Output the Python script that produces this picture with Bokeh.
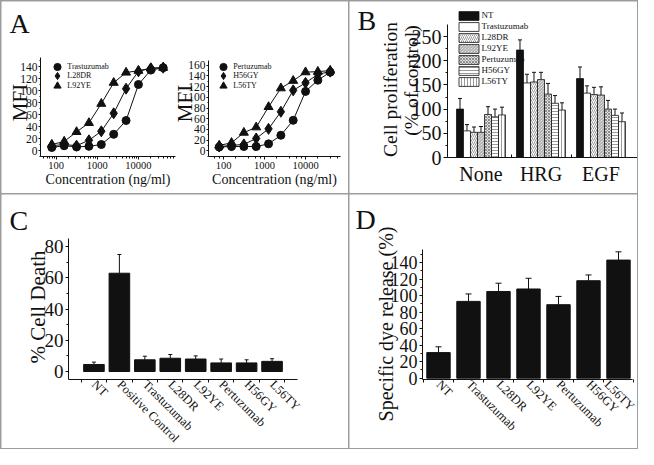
import math
from bokeh.plotting import figure
from bokeh.layouts import row, column
from bokeh.models import (ColumnDataSource, Whisker, TeeHead, Label, Legend, LegendItem,
                          SingleIntervalTicker, FixedTicker, PrintfTickFormatter, Range1d,
                          LogScale, LogAxis, LinearAxis)
from bokeh.embed import file_html
from bokeh.resources import INLINE

FONT = "Liberation Serif"
INK = "#111111"
RULE = "#9c9c9c"
LEG_DX, LEG_DY = 8, 8   # legend placement correction (page px)

# ---------------- data ----------------
conc = [78.125, 156.25, 312.5, 625, 1250, 2500, 5000, 10000, 20000, 40000]
mfi_trastuzumab = [5, 8, 6, 7, 10, 27, 50, 110, 134, 138]
mfi_l28dr = [8, 10, 8, 17, 32, 62, 103, 132, 137, 138]
mfi_l92ye = [10, 15, 31, 46, 78, 113, 130, 133, 137, 138]
mfi_pertuzumab = [7, 8, 8, 8, 13, 29, 57, 111, 132, 147]
mfi_h56gy = [8, 10, 12, 23, 41, 73, 113, 127, 143, 148]
mfi_l56ty = [10, 15, 34, 44, 82, 117, 131, 147, 148, 150]

prolif_groups = ["None", "HRG", "EGF"]
prolif_names = ["NT", "Trastuzumab", "L28DR", "L92YE", "Pertuzumab", "H56GY", "L56TY"]
prolif_nt = [100, 222, 163]
prolif_trastuzumab = [55, 154, 133]
prolif_l28dr = [52, 156, 130]
prolif_l92ye = [52, 161, 129]
prolif_pertuzumab = [89, 131, 100]
prolif_h56gy = [84, 112, 87]
prolif_l56ty = [88, 98, 74]
prolif_nt_err = [22, 21, 24]
prolif_trastuzumab_err = [13, 18, 15]
prolif_l28dr_err = [11, 20, 15]
prolif_l92ye_err = [12, 15, 17]
prolif_pertuzumab_err = [16, 22, 18]
prolif_h56gy_err = [16, 16, 13]
prolif_l56ty_err = [16, 15, 18]

death_labels = ["NT", "Positive Control", "Trastuzumab", "L28DR", "L92YE", "Pertuzumab", "H56GY", "L56TY"]
death_values = [4.5, 63, 7.5, 8.5, 8, 5.5, 5.5, 6.5]
death_err = [1.5, 12, 2.3, 2.4, 2, 2.5, 2, 1.7]

dye_labels = ["NT", "Trastuzumab", "L28DR", "L92YE", "Pertuzumab", "H56GY", "L56TY"]
dye_values = [31, 93, 105, 108, 89, 118, 143]
dye_err = [7, 9, 10, 13, 10, 7, 10]


# ---------------- layout helpers (page pixel geometry -> ranges) ----------------
def pix_map(p0, v0, p1, v1, log=False):
    f = math.log10 if log else (lambda v: v)
    a0, a1 = f(v0), f(v1)

    def to_val(px):
        u = a0 + (px - p0) * (a1 - a0) / (p1 - p0)
        return 10 ** u if log else u
    return to_val


def style_axis(ax):
    ax.axis_line_color = INK
    ax.major_tick_line_color = INK
    ax.minor_tick_line_color = INK
    ax.major_label_text_font = FONT
    ax.major_label_text_color = INK
    ax.major_tick_in = 0
    ax.minor_tick_in = 0


class Panel:
    def __init__(self, box, xmap, ymap, xaxis_px, yaxis_px, log=False):
        self.L, self.R, self.T, self.B = box
        p = figure(width=self.R - self.L, height=self.B - self.T, min_border=0,
                   x_range=Range1d(xmap(self.L), xmap(self.R)),
                   y_range=Range1d(ymap(self.B), ymap(self.T)),
                   x_axis_type="log" if log else "linear",
                   output_backend="svg", toolbar_location=None, title=None)
        p.outline_line_color = None
        p.xgrid.visible = False
        p.ygrid.visible = False
        p.background_fill_color = "white"
        p.border_fill_color = "white"
        (x0, x1, ya) = xaxis_px
        (y0, y1, xa) = yaxis_px
        xax, yax = p.xaxis[0], p.yaxis[0]
        xax.fixed_location = ymap(ya)
        xax.bounds = (xmap(x0), xmap(x1))
        yax.fixed_location = xmap(xa)
        yax.bounds = (ymap(y0), ymap(y1))
        style_axis(xax)
        style_axis(yax)
        self.p = p

    def add_sub(self, name, xmap, ymap, xaxis_px, yaxis_px):
        """Second set of axes (own ranges) inside the same canvas."""
        p = self.p
        xr, yr = name + "x", name + "y"
        p.extra_x_ranges[xr] = Range1d(xmap(self.L), xmap(self.R))
        p.extra_x_scales[xr] = LogScale()
        p.extra_y_ranges[yr] = Range1d(ymap(self.B), ymap(self.T))
        (x0, x1, ya) = xaxis_px
        (y0, y1, xa) = yaxis_px
        xax = LogAxis(x_range_name=xr, y_range_name=yr, fixed_location=ymap(ya), bounds=(xmap(x0), xmap(x1)))
        yax = LinearAxis(x_range_name=xr, y_range_name=yr, fixed_location=xmap(xa), bounds=(ymap(y0), ymap(y1)))
        style_axis(xax)
        style_axis(yax)
        p.add_layout(xax, "below")
        p.add_layout(yax, "left")
        return xr, yr, xax, yax

    def label(self, text, px, py, size, angle=0.0, align="left", baseline="alphabetic"):
        self.p.add_layout(Label(x=px - self.L, y=self.B - py, x_units="screen", y_units="screen",
                                text=text, angle=angle, text_font=FONT, text_font_size=size,
                                text_color=INK, text_align=align, text_baseline=baseline))

    def vtitle(self, text, bx, cy, size):
        # bx = page x of the (rotated) text baseline, cy = page y of its centre
        self.label(text, bx, cy, size, angle=math.pi / 2, align="center", baseline="alphabetic")

    def loc(self, px, py):
        return (px + LEG_DX - self.L, self.B - (py + LEG_DY))


# ---------------- panel A (two sub-plots in one canvas) ----------------
Ap = Panel((9, 356, 9, 201), pix_map(59.3, 78.125, 170.7, 40000, log=True), pix_map(158, 0, 74, 140),
           (48, 183, 164), (164, 65, 48), log=True)
pA = Ap.p
a2x, a2y, a2_xax, a2_yax = Ap.add_sub("a2", pix_map(226.7, 78.125, 337.7, 40000, log=True),
                                      pix_map(158.3, 0, 72.7, 160), (216, 348, 164), (164, 68, 216))

for rng, series, names, leg_left, rows_y, xax, yax in (
    ({}, [mfi_trastuzumab, mfi_l28dr, mfi_l92ye], ["Trastuzumab", "L28DR", "L92YE"], 48.3,
     [66.3, 75.8, 85.3], pA.xaxis[0], pA.yaxis[0]),
    (dict(x_range_name=a2x, y_range_name=a2y), [mfi_pertuzumab, mfi_h56gy, mfi_l56ty],
     ["Pertuzumab", "H56GY", "L56TY"], 214.3, [66.3, 75.8, 85.3], a2_xax, a2_yax),
):
    for vals, name, marker, size, ry in zip(series, names, ["circle", "diamond", "triangle"], [8, 11, 9], rows_y):
        pA.line(conc, vals, line_color=INK, line_width=1, **rng)
        r = pA.scatter(conc, vals, marker=marker, size=size, fill_color=INK, line_color=INK, **rng)
        leg = Legend(items=[LegendItem(label=name, renderers=[r])], location=Ap.loc(leg_left, ry + 9.5),
                     glyph_width=18, glyph_height=19, label_height=19, spacing=0, padding=0, margin=0,
                     border_line_color=None, background_fill_alpha=0, label_standoff=1,
                     label_text_font=FONT, label_text_font_size="8px", label_text_color=INK)
        pA.add_layout(leg)
    xax.formatter = PrintfTickFormatter(format="%d")
    xax.axis_label = "Concentration (ng/ml)"
    xax.axis_label_text_font = FONT
    xax.axis_label_text_font_style = "normal"
    xax.axis_label_text_color = INK
    xax.axis_label_text_font_size = "14px"
    xax.axis_label_standoff = 0
    xax.major_label_standoff = 2
    xax.major_label_text_font_size = "10.5px"
    xax.major_tick_out = 3
    xax.minor_tick_out = 2
    yax.ticker = SingleIntervalTicker(interval=20, num_minor_ticks=2)
    yax.major_label_text_font_size = "11.5px"
    yax.major_tick_out = 2
    yax.minor_tick_out = 1
    yax.major_label_standoff = 1

Ap.label("A", 17, 31, "28px")
Ap.vtitle("MFI", 27, 110, "21px")
Ap.vtitle("MFI", 192, 111, "21px")

# ---------------- panel B ----------------
Bp = Panel((357, 645, 9, 201), pix_map(488.5, 0, 548.5, 1), pix_map(165, 0, 44, 250),
           (455, 645, 165), (165, 32, 455))
pB = Bp.p
bw = 0.1167
prolif_vals = [prolif_nt, prolif_trastuzumab, prolif_l28dr, prolif_l92ye,
               prolif_pertuzumab, prolif_h56gy, prolif_l56ty]
prolif_errs = [prolif_nt_err, prolif_trastuzumab_err, prolif_l28dr_err, prolif_l92ye_err,
               prolif_pertuzumab_err, prolif_h56gy_err, prolif_l56ty_err]
hatch = dict(hatch_color="#555555", hatch_weight=0.6)
styles = [
    dict(fill_color=INK),
    dict(fill_color="white"),
    dict(fill_color="white", hatch_pattern="/", hatch_scale=4, **hatch),
    dict(fill_color="white", hatch_pattern="\\", hatch_scale=3, **hatch),
    dict(fill_color="#e0e0e0", hatch_pattern="x", hatch_scale=3, **hatch),
    dict(fill_color="white", hatch_pattern="-", hatch_scale=3, **hatch),
    dict(fill_color="white", hatch_pattern="|", hatch_scale=3, **hatch),
]
b_items = []
for i, (name, vals, errs, st) in enumerate(zip(prolif_names, prolif_vals, prolif_errs, styles)):
    xs = [g + (i - 3) * bw for g in range(len(prolif_groups))]
    src = ColumnDataSource(dict(x=xs, top=vals, lo=vals, hi=[v + e for v, e in zip(vals, errs)]))
    r = pB.vbar(x="x", top="top", bottom=0, width=bw, source=src, line_color=INK, line_width=0.8, **st)
    pB.add_layout(Whisker(source=src, base="x", lower="lo", upper="hi", dimension="height",
                          lower_head=None, upper_head=TeeHead(size=4, line_color=INK, line_width=1),
                          line_color=INK, line_width=1))
    b_items.append(LegendItem(label=name, renderers=[r]))
legB = Legend(items=b_items, location=Bp.loc(455.5, 86.5), glyph_width=25, glyph_height=11,
              label_height=11, spacing=0, padding=0, margin=0, border_line_color=None,
              background_fill_alpha=0, label_standoff=1, label_text_font=FONT,
              label_text_font_size="9px", label_text_color=INK)
pB.add_layout(legB)
xb = pB.xaxis[0]
xb.ticker = FixedTicker(ticks=[0, 1, 2], minor_ticks=[0.5, 1.5])
xb.major_label_overrides = {i: g for i, g in enumerate(prolif_groups)}
xb.major_label_text_font_size = "20px"
xb.major_tick_out = 0
xb.minor_tick_in = 3
xb.minor_tick_out = 0
xb.major_label_standoff = 5
yb = pB.yaxis[0]
yb.ticker = SingleIntervalTicker(interval=50, num_minor_ticks=2)
yb.major_label_text_font_size = "20px"
yb.major_tick_out = 4
yb.minor_tick_out = 2
yb.major_label_standoff = 2
Bp.label("B", 365, 28, "28px")
Bp.vtitle("Cell proliferation", 398, 97, "19.5px")
Bp.vtitle("(% of control)", 419, 88, "19.5px")

# ---------------- panel C ----------------
Cp = Panel((9, 356, 202, 456), pix_map(101.44, 0, 279.55, 7), pix_map(379, 0, 254.2, 80),
           (76, 305, 387), (387, 246, 76))
pC = Cp.p
xc = list(range(len(death_labels)))
srcC = ColumnDataSource(dict(x=xc, top=death_values, lo=death_values,
                             hi=[v + e for v, e in zip(death_values, death_err)]))
pC.vbar(x="x", top="top", bottom=0, width=0.81, source=srcC, fill_color=INK, line_color=INK)
pC.add_layout(Whisker(source=srcC, base="x", lower="lo", upper="hi", dimension="height",
                      lower_head=None, upper_head=TeeHead(size=4, line_color=INK, line_width=1),
                      line_color=INK, line_width=1))
xa = pC.xaxis[0]
xa.ticker = FixedTicker(ticks=xc, minor_ticks=[k + 0.5 for k in range(-1, len(death_labels))])
xa.major_label_overrides = {i: t for i, t in enumerate(death_labels)}
xa.major_label_orientation = -math.pi / 4
xa.major_label_text_font_size = "12.5px"
xa.major_tick_out = 0
xa.minor_tick_out = 3
xa.major_label_standoff = 0
ya = pC.yaxis[0]
ya.ticker = SingleIntervalTicker(interval=20, num_minor_ticks=2)
ya.major_label_text_font_size = "19px"
ya.major_tick_out = 3
ya.minor_tick_out = 2
ya.major_label_standoff = 2
Cp.label("C", 17, 228, "28px")
Cp.vtitle("% Cell Death", 45, 314.5, "21px")

# ---------------- panel D ----------------
Dp = Panel((357, 645, 202, 456), pix_map(446, 0, 626, 6), pix_map(385.7, 0, 270.06, 140),
           (430, 640, 387), (387, 257, 430))
pD = Dp.p
xd = list(range(len(dye_labels)))
srcD = ColumnDataSource(dict(x=xd, top=dye_values, lo=dye_values,
                             hi=[v + e for v, e in zip(dye_values, dye_err)]))
pD.vbar(x="x", top="top", bottom=0, width=0.78, source=srcD, fill_color=INK, line_color=INK)
pD.add_layout(Whisker(source=srcD, base="x", lower="lo", upper="hi", dimension="height",
                      lower_head=None, upper_head=TeeHead(size=6, line_color=INK, line_width=1),
                      line_color=INK, line_width=1))
xa = pD.xaxis[0]
xa.ticker = FixedTicker(ticks=xd, minor_ticks=[k + 0.5 for k in range(-1, len(dye_labels))])
xa.major_label_overrides = {i: t for i, t in enumerate(dye_labels)}
xa.major_label_orientation = -math.pi / 4
xa.major_label_text_font_size = "12.5px"
xa.major_tick_out = 0
xa.minor_tick_out = 3
xa.major_label_standoff = 0
ya = pD.yaxis[0]
ya.ticker = SingleIntervalTicker(interval=20, num_minor_ticks=2)
ya.major_label_text_font_size = "18px"
ya.major_tick_out = 3
ya.minor_tick_out = 2
ya.major_label_standoff = 2
Dp.label("D", 363, 227, "28px")
Dp.vtitle("Specific dye release (%)", 393, 331.5, "20px")

# ---------------- layout ----------------
top = row(pA, pB, spacing=1)
bottom = row(pC, pD, spacing=1)
page = column(top, bottom, spacing=1,
              styles={"background-color": RULE, "border": "1px solid " + RULE})

open("out.html", "w").write(file_html(page, INLINE))
